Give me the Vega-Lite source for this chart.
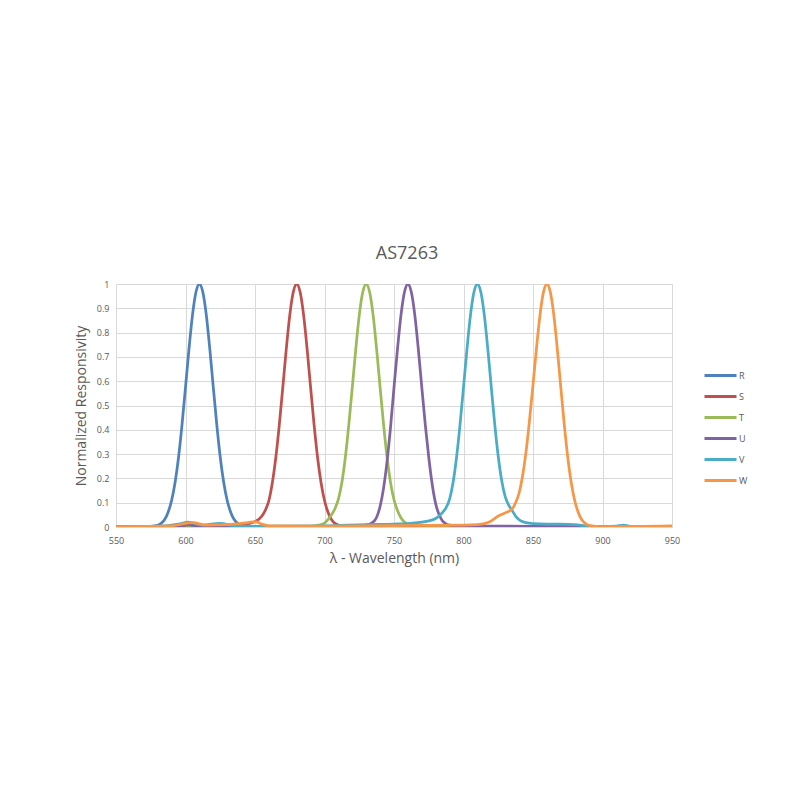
{
  "$schema": "https://vega.github.io/schema/vega-lite/v6.json",
  "description": "AS7263 normalized spectral responsivity of the six NIR channels.",
  "autosize": "none",
  "padding": {"left": 116, "top": 284, "right": 128, "bottom": 273},
  "width": 556,
  "height": 243,
  "background": "white",
  "title": {
    "text": "AS7263",
    "fontSize": 18,
    "fontWeight": "normal",
    "color": "#595959",
    "font": "Open Sans",
    "anchor": "middle",
    "dx": 13,
    "offset": 17
  },
  "data": {
    "values": [
      {"band": "R", "wl": 550, "r": 0.0},
      {"band": "R", "wl": 560, "r": 0.001},
      {"band": "R", "wl": 570, "r": 0.002},
      {"band": "R", "wl": 575, "r": 0.003},
      {"band": "R", "wl": 580, "r": 0.007},
      {"band": "R", "wl": 582.5, "r": 0.015},
      {"band": "R", "wl": 585, "r": 0.031},
      {"band": "R", "wl": 587.5, "r": 0.061},
      {"band": "R", "wl": 590, "r": 0.109},
      {"band": "R", "wl": 592.5, "r": 0.183},
      {"band": "R", "wl": 595, "r": 0.287},
      {"band": "R", "wl": 597.5, "r": 0.421},
      {"band": "R", "wl": 600, "r": 0.575},
      {"band": "R", "wl": 602.5, "r": 0.732},
      {"band": "R", "wl": 605, "r": 0.871},
      {"band": "R", "wl": 607.5, "r": 0.966},
      {"band": "R", "wl": 610, "r": 1.0},
      {"band": "R", "wl": 612.5, "r": 0.966},
      {"band": "R", "wl": 615, "r": 0.871},
      {"band": "R", "wl": 617.5, "r": 0.732},
      {"band": "R", "wl": 620, "r": 0.575},
      {"band": "R", "wl": 622.5, "r": 0.421},
      {"band": "R", "wl": 625, "r": 0.287},
      {"band": "R", "wl": 627.5, "r": 0.183},
      {"band": "R", "wl": 630, "r": 0.109},
      {"band": "R", "wl": 632.5, "r": 0.061},
      {"band": "R", "wl": 635, "r": 0.031},
      {"band": "R", "wl": 637.5, "r": 0.015},
      {"band": "R", "wl": 640, "r": 0.007},
      {"band": "R", "wl": 645, "r": 0.002},
      {"band": "R", "wl": 650, "r": 0.001},
      {"band": "R", "wl": 700, "r": 0.0},
      {"band": "R", "wl": 800, "r": 0.0},
      {"band": "R", "wl": 950, "r": 0.0},

      {"band": "S", "wl": 550, "r": 0.0},
      {"band": "S", "wl": 590, "r": 0.002},
      {"band": "S", "wl": 600, "r": 0.008},
      {"band": "S", "wl": 610, "r": 0.004},
      {"band": "S", "wl": 620, "r": 0.003},
      {"band": "S", "wl": 630, "r": 0.004},
      {"band": "S", "wl": 640, "r": 0.008},
      {"band": "S", "wl": 645, "r": 0.013},
      {"band": "S", "wl": 650, "r": 0.022},
      {"band": "S", "wl": 655, "r": 0.045},
      {"band": "S", "wl": 657.5, "r": 0.07},
      {"band": "S", "wl": 660, "r": 0.109},
      {"band": "S", "wl": 662.5, "r": 0.183},
      {"band": "S", "wl": 665, "r": 0.287},
      {"band": "S", "wl": 667.5, "r": 0.421},
      {"band": "S", "wl": 670, "r": 0.575},
      {"band": "S", "wl": 672.5, "r": 0.732},
      {"band": "S", "wl": 675, "r": 0.871},
      {"band": "S", "wl": 677.5, "r": 0.966},
      {"band": "S", "wl": 680, "r": 1.0},
      {"band": "S", "wl": 682.5, "r": 0.966},
      {"band": "S", "wl": 685, "r": 0.871},
      {"band": "S", "wl": 687.5, "r": 0.732},
      {"band": "S", "wl": 690, "r": 0.575},
      {"band": "S", "wl": 692.5, "r": 0.421},
      {"band": "S", "wl": 695, "r": 0.287},
      {"band": "S", "wl": 697.5, "r": 0.183},
      {"band": "S", "wl": 700, "r": 0.109},
      {"band": "S", "wl": 702.5, "r": 0.061},
      {"band": "S", "wl": 705, "r": 0.031},
      {"band": "S", "wl": 707.5, "r": 0.015},
      {"band": "S", "wl": 710, "r": 0.008},
      {"band": "S", "wl": 715, "r": 0.004},
      {"band": "S", "wl": 730, "r": 0.003},
      {"band": "S", "wl": 800, "r": 0.002},
      {"band": "S", "wl": 950, "r": 0.001},

      {"band": "T", "wl": 550, "r": 0.0},
      {"band": "T", "wl": 600, "r": 0.004},
      {"band": "T", "wl": 650, "r": 0.002},
      {"band": "T", "wl": 690, "r": 0.003},
      {"band": "T", "wl": 695, "r": 0.007},
      {"band": "T", "wl": 700, "r": 0.016},
      {"band": "T", "wl": 702.5, "r": 0.03},
      {"band": "T", "wl": 705, "r": 0.05},
      {"band": "T", "wl": 707.5, "r": 0.075},
      {"band": "T", "wl": 710, "r": 0.115},
      {"band": "T", "wl": 712.5, "r": 0.183},
      {"band": "T", "wl": 715, "r": 0.287},
      {"band": "T", "wl": 717.5, "r": 0.421},
      {"band": "T", "wl": 720, "r": 0.575},
      {"band": "T", "wl": 722.5, "r": 0.732},
      {"band": "T", "wl": 725, "r": 0.871},
      {"band": "T", "wl": 727.5, "r": 0.966},
      {"band": "T", "wl": 730, "r": 1.0},
      {"band": "T", "wl": 732.5, "r": 0.966},
      {"band": "T", "wl": 735, "r": 0.871},
      {"band": "T", "wl": 737.5, "r": 0.732},
      {"band": "T", "wl": 740, "r": 0.575},
      {"band": "T", "wl": 742.5, "r": 0.421},
      {"band": "T", "wl": 745, "r": 0.287},
      {"band": "T", "wl": 747.5, "r": 0.183},
      {"band": "T", "wl": 750, "r": 0.112},
      {"band": "T", "wl": 752.5, "r": 0.068},
      {"band": "T", "wl": 755, "r": 0.038},
      {"band": "T", "wl": 757.5, "r": 0.02},
      {"band": "T", "wl": 760, "r": 0.012},
      {"band": "T", "wl": 770, "r": 0.008},
      {"band": "T", "wl": 790, "r": 0.006},
      {"band": "T", "wl": 800, "r": 0.004},
      {"band": "T", "wl": 850, "r": 0.002},
      {"band": "T", "wl": 950, "r": 0.0},

      {"band": "U", "wl": 550, "r": 0.0},
      {"band": "U", "wl": 595, "r": 0.003},
      {"band": "U", "wl": 602, "r": 0.009},
      {"band": "U", "wl": 610, "r": 0.003},
      {"band": "U", "wl": 700, "r": 0.002},
      {"band": "U", "wl": 720, "r": 0.004},
      {"band": "U", "wl": 730, "r": 0.008},
      {"band": "U", "wl": 735, "r": 0.02},
      {"band": "U", "wl": 737.5, "r": 0.04},
      {"band": "U", "wl": 740, "r": 0.085},
      {"band": "U", "wl": 742.5, "r": 0.16},
      {"band": "U", "wl": 745, "r": 0.27},
      {"band": "U", "wl": 747.5, "r": 0.41},
      {"band": "U", "wl": 750, "r": 0.575},
      {"band": "U", "wl": 752.5, "r": 0.732},
      {"band": "U", "wl": 755, "r": 0.871},
      {"band": "U", "wl": 757.5, "r": 0.966},
      {"band": "U", "wl": 760, "r": 1.0},
      {"band": "U", "wl": 762.5, "r": 0.966},
      {"band": "U", "wl": 765, "r": 0.871},
      {"band": "U", "wl": 767.5, "r": 0.732},
      {"band": "U", "wl": 770, "r": 0.575},
      {"band": "U", "wl": 772.5, "r": 0.421},
      {"band": "U", "wl": 775, "r": 0.287},
      {"band": "U", "wl": 777.5, "r": 0.175},
      {"band": "U", "wl": 780, "r": 0.095},
      {"band": "U", "wl": 782.5, "r": 0.05},
      {"band": "U", "wl": 785, "r": 0.024},
      {"band": "U", "wl": 787.5, "r": 0.013},
      {"band": "U", "wl": 790, "r": 0.008},
      {"band": "U", "wl": 800, "r": 0.004},
      {"band": "U", "wl": 850, "r": 0.003},
      {"band": "U", "wl": 900, "r": 0.002},
      {"band": "U", "wl": 950, "r": 0.0},

      {"band": "V", "wl": 550, "r": 0.0},
      {"band": "V", "wl": 580, "r": 0.003},
      {"band": "V", "wl": 595, "r": 0.012},
      {"band": "V", "wl": 602, "r": 0.02},
      {"band": "V", "wl": 612, "r": 0.008},
      {"band": "V", "wl": 625, "r": 0.015},
      {"band": "V", "wl": 635, "r": 0.005},
      {"band": "V", "wl": 650, "r": 0.003},
      {"band": "V", "wl": 700, "r": 0.005},
      {"band": "V", "wl": 730, "r": 0.01},
      {"band": "V", "wl": 750, "r": 0.012},
      {"band": "V", "wl": 760, "r": 0.014},
      {"band": "V", "wl": 770, "r": 0.02},
      {"band": "V", "wl": 775, "r": 0.025},
      {"band": "V", "wl": 780, "r": 0.035},
      {"band": "V", "wl": 785, "r": 0.06},
      {"band": "V", "wl": 787.5, "r": 0.08},
      {"band": "V", "wl": 790, "r": 0.115},
      {"band": "V", "wl": 792.5, "r": 0.183},
      {"band": "V", "wl": 795, "r": 0.287},
      {"band": "V", "wl": 797.5, "r": 0.421},
      {"band": "V", "wl": 800, "r": 0.575},
      {"band": "V", "wl": 802.5, "r": 0.732},
      {"band": "V", "wl": 805, "r": 0.871},
      {"band": "V", "wl": 807.5, "r": 0.966},
      {"band": "V", "wl": 810, "r": 1.0},
      {"band": "V", "wl": 812.5, "r": 0.966},
      {"band": "V", "wl": 815, "r": 0.871},
      {"band": "V", "wl": 817.5, "r": 0.732},
      {"band": "V", "wl": 820, "r": 0.575},
      {"band": "V", "wl": 822.5, "r": 0.421},
      {"band": "V", "wl": 825, "r": 0.29},
      {"band": "V", "wl": 827.5, "r": 0.19},
      {"band": "V", "wl": 830, "r": 0.125},
      {"band": "V", "wl": 832.5, "r": 0.09},
      {"band": "V", "wl": 835, "r": 0.068},
      {"band": "V", "wl": 837.5, "r": 0.045},
      {"band": "V", "wl": 840, "r": 0.03},
      {"band": "V", "wl": 845, "r": 0.018},
      {"band": "V", "wl": 850, "r": 0.014},
      {"band": "V", "wl": 860, "r": 0.012},
      {"band": "V", "wl": 870, "r": 0.012},
      {"band": "V", "wl": 880, "r": 0.01},
      {"band": "V", "wl": 890, "r": 0.004},
      {"band": "V", "wl": 900, "r": 0.002},
      {"band": "V", "wl": 910, "r": 0.004},
      {"band": "V", "wl": 915, "r": 0.008},
      {"band": "V", "wl": 920, "r": 0.003},
      {"band": "V", "wl": 950, "r": 0.002},

      {"band": "W", "wl": 550, "r": 0.002},
      {"band": "W", "wl": 590, "r": 0.005},
      {"band": "W", "wl": 600, "r": 0.015},
      {"band": "W", "wl": 605, "r": 0.018},
      {"band": "W", "wl": 615, "r": 0.008},
      {"band": "W", "wl": 630, "r": 0.01},
      {"band": "W", "wl": 645, "r": 0.018},
      {"band": "W", "wl": 650, "r": 0.022},
      {"band": "W", "wl": 655, "r": 0.012},
      {"band": "W", "wl": 660, "r": 0.005},
      {"band": "W", "wl": 700, "r": 0.004},
      {"band": "W", "wl": 750, "r": 0.006},
      {"band": "W", "wl": 800, "r": 0.008},
      {"band": "W", "wl": 810, "r": 0.01},
      {"band": "W", "wl": 815, "r": 0.014},
      {"band": "W", "wl": 820, "r": 0.025},
      {"band": "W", "wl": 825, "r": 0.045},
      {"band": "W", "wl": 830, "r": 0.058},
      {"band": "W", "wl": 835, "r": 0.075},
      {"band": "W", "wl": 837.5, "r": 0.1},
      {"band": "W", "wl": 840, "r": 0.14},
      {"band": "W", "wl": 842.5, "r": 0.21},
      {"band": "W", "wl": 845, "r": 0.31},
      {"band": "W", "wl": 847.5, "r": 0.44},
      {"band": "W", "wl": 850, "r": 0.585},
      {"band": "W", "wl": 852.5, "r": 0.735},
      {"band": "W", "wl": 855, "r": 0.871},
      {"band": "W", "wl": 857.5, "r": 0.966},
      {"band": "W", "wl": 860, "r": 1.0},
      {"band": "W", "wl": 862.5, "r": 0.966},
      {"band": "W", "wl": 865, "r": 0.871},
      {"band": "W", "wl": 867.5, "r": 0.732},
      {"band": "W", "wl": 870, "r": 0.575},
      {"band": "W", "wl": 872.5, "r": 0.421},
      {"band": "W", "wl": 875, "r": 0.287},
      {"band": "W", "wl": 877.5, "r": 0.183},
      {"band": "W", "wl": 880, "r": 0.109},
      {"band": "W", "wl": 882.5, "r": 0.061},
      {"band": "W", "wl": 885, "r": 0.031},
      {"band": "W", "wl": 887.5, "r": 0.015},
      {"band": "W", "wl": 890, "r": 0.007},
      {"band": "W", "wl": 895, "r": 0.003},
      {"band": "W", "wl": 900, "r": 0.002},
      {"band": "W", "wl": 950, "r": 0.005}
    ]
  },
  "mark": {"type": "line", "interpolate": "monotone", "strokeWidth": 2.75, "clip": true},
  "encoding": {
    "x": {
      "field": "wl",
      "type": "quantitative",
      "title": "λ - Wavelength (nm)",
      "scale": {"domain": [550, 950], "nice": false, "zero": false},
      "axis": {
        "values": [550, 600, 650, 700, 750, 800, 850, 900, 950],
        "format": "d",
        "labelFlush": false,
        "labelPadding": 9,
        "titlePadding": 6
      }
    },
    "y": {
      "field": "r",
      "type": "quantitative",
      "title": "Normalized Responsivity",
      "scale": {"domain": [0, 1], "nice": false},
      "axis": {
        "values": [0, 0.1, 0.2, 0.3, 0.4, 0.5, 0.6, 0.7, 0.8, 0.9, 1],
        "format": "~g",
        "domain": false,
        "labelFlush": false,
        "labelPadding": 7,
        "titlePadding": 8
      }
    },
    "color": {
      "field": "band",
      "type": "nominal",
      "title": null,
      "scale": {
        "domain": ["R", "S", "T", "U", "V", "W"],
        "range": ["#4F81BD", "#C0504D", "#9BBB59", "#8064A2", "#4BACC6", "#F79646"]
      },
      "legend": {
        "orient": "none",
        "legendX": 587,
        "legendY": 85,
        "symbolType": "M-1,0L5.4,0",
        "symbolSize": 100,
        "symbolStrokeWidth": 3,
        "labelOffset": 23,
        "rowPadding": 8,
        "labelFontSize": 9,
        "labelColor": "#595959",
        "labelFont": "Open Sans"
      }
    }
  },
  "config": {
    "view": {"stroke": null},
    "axis": {
      "grid": true,
      "gridColor": "#d9d9d9",
      "gridWidth": 1,
      "ticks": false,
      "domainColor": "#d9d9d9",
      "labelFont": "Open Sans",
      "labelFontSize": 9,
      "labelColor": "#595959",
      "titleFont": "Open Sans",
      "titleFontSize": 14,
      "titleFontWeight": "normal",
      "titleColor": "#595959"
    }
  }
}
